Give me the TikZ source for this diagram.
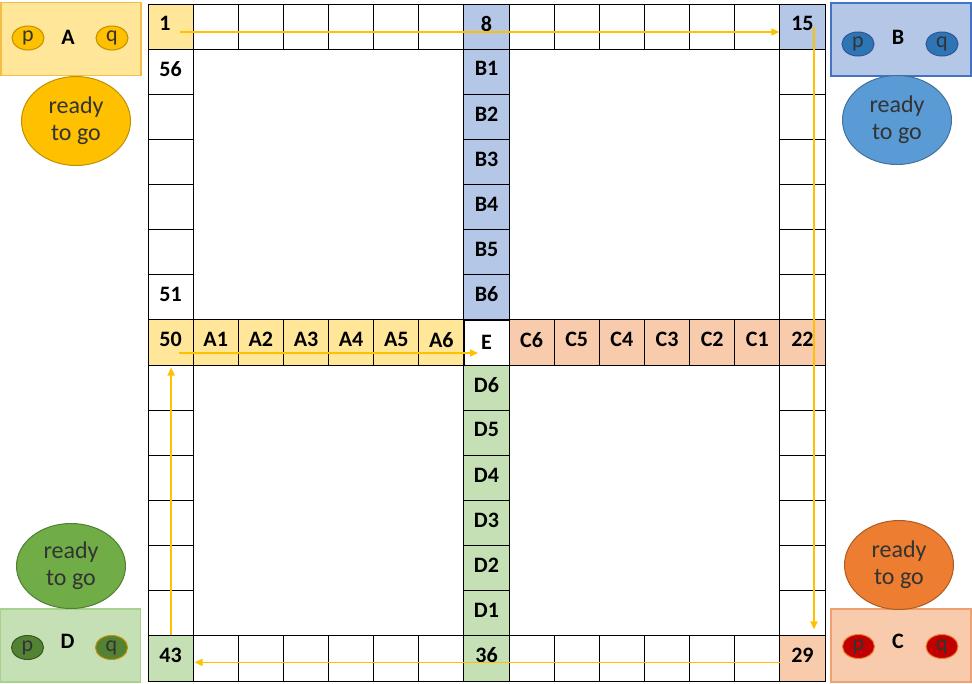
\documentclass[tikz,border=0pt]{standalone}
\usepackage{fontspec}
\setmainfont{Carlito}
\usetikzlibrary{arrows.meta, shapes.geometric}

\definecolor{yellowA}{HTML}{FFE699}
\definecolor{blueB}{HTML}{B4C7E7}
\definecolor{orangeC}{HTML}{F8CBAD}
\definecolor{greenD}{HTML}{C5E0B4}
\definecolor{goldA}{HTML}{FFC000}
\definecolor{goldline}{HTML}{BF9000}
\definecolor{boxlineA}{HTML}{F2BE45}
\definecolor{boxlineB}{HTML}{4472C4}
\definecolor{tokenB}{HTML}{2E75B6}
\definecolor{tokenlineB}{HTML}{2F5597}
\definecolor{readyB}{HTML}{5B9BD5}
\definecolor{readylineB}{HTML}{41719C}
\definecolor{boxlineC}{HTML}{F0A070}
\definecolor{readyC}{HTML}{ED7D31}
\definecolor{readylineC}{HTML}{AE5A21}
\definecolor{tokenC}{HTML}{C00000}
\definecolor{boxlineD}{HTML}{A9D18E}
\definecolor{tokenD}{HTML}{548235}
\definecolor{tokenlineD}{HTML}{385723}
\definecolor{readyD}{HTML}{70AD47}
\definecolor{readylineD}{HTML}{507E32}

\begin{document}
\begin{tikzpicture}[
        x=1pt, y=-1pt,
        cell/.style={draw=black, line width=0.9pt, minimum size=45.13pt, inner sep=0pt,
            text depth=6pt, font=\fontsize{22}{25}\selectfont\bfseries},
        pbox/.style={draw, line width=1.2pt, minimum width=140pt, minimum height=73pt, inner sep=0pt},
        token/.style={ellipse, draw, line width=1pt, minimum width=32pt, minimum height=24pt,
            inner sep=0pt, text=black!80, font=\fontsize{22}{24}\selectfont},
        ready/.style={ellipse, draw, line width=1pt, minimum width=109pt, minimum height=89pt,
            inner sep=0pt, align=center, text=black!80, font=\fontsize{24}{27}\selectfont},
        player/.style={font=\fontsize{22}{25}\selectfont\bfseries},
        move/.style={draw=goldA, line width=1.8pt, -{Triangle[length=8pt, width=7pt]}}
    ]
    \useasboundingbox (0,0) rectangle (972,683);
    % Define nodes
    \foreach \c in {1,2,3,4,5,6,8,9,10,11,12,13} {
        \node[cell] (t\c) at ({170.6+45.13*\c}, 26.6) {};
        \node[cell] (b\c) at ({170.6+45.13*\c}, 658.4) {};
    }
    \foreach \r in {2,3,4,5,8,9,10,11,12,13} {
        \node[cell] (l\r) at (170.6, {26.6+45.13*\r}) {};
    }
    \foreach \r in {1,2,3,4,5,6,8,9,10,11,12,13} {
        \node[cell] (r\r) at (802.4, {26.6+45.13*\r}) {};
    }
    \foreach \i in {1,...,6} {
        \node[cell, fill=blueB] (B\i) at (486.5, {26.6+45.13*\i}) {B\i};
        \node[cell, fill=yellowA] (A\i) at ({170.6+45.13*\i}, 342.5) {A\i};
        \node[cell, fill=orangeC] (C\i) at ({802.4-45.13*\i}, 342.5) {C\i};
        \node[cell, fill=greenD] (D\i) at (486.5, {658.4-45.13*\i}) {D\i};
    }
    \node[cell, fill=yellowA] (s1) at (170.6, 26.6) {1\hphantom{1}};
    \node[cell] (s56) at (170.6, 71.7) {56};
    \node[cell] (s51) at (170.6, 297.4) {51};
    \node[cell, fill=blueB] (s8) at (486.5, 26.6) {8};
    \node[cell, fill=blueB] (s15) at (802.4, 26.6) {15};
    \node[cell, fill=yellowA] (s50) at (170.6, 342.5) {50};
    \node[cell, text depth=0pt] (sE) at (486.5, 342.5) {E};
    \node[cell, fill=orangeC] (s22) at (802.4, 342.5) {22};
    \node[cell, fill=greenD] (s43) at (170.6, 658.4) {43};
    \node[cell, fill=greenD] (s36) at (486.5, 658.4) {36};
    \node[cell, fill=orangeC] (s29) at (802.4, 658.4) {29};
    % Players
    \node[pbox, fill=yellowA, draw=boxlineA] (boxA) at (71, 39) {};
    \node[token, fill=goldA, draw=goldline] (pA) at (28, 38) {p};
    \node[token, fill=goldA, draw=goldline] (qA) at (112, 38) {q};
    \node[player] (A) at (68, 37) {A};
    \node[ready, fill=goldA, draw=goldline] (readyA) at (76, 121) {ready\\to go};
    \node[pbox, fill=blueB, draw=boxlineB] (boxB) at (901, 39.5) {};
    \node[token, fill=tokenB, draw=tokenlineB] (pB) at (858, 44) {p};
    \node[token, fill=tokenB, draw=tokenlineB] (qB) at (942, 44) {q};
    \node[player] (B) at (898, 37) {B};
    \node[ready, fill=readyB, draw=readylineB] (readyB) at (897, 120) {ready\\to go};
    \node[pbox, fill=orangeC, draw=boxlineC] (boxC) at (901, 645.5) {};
    \node[token, fill=tokenC, draw=readyC] (pC) at (858.5, 646.5) {p};
    \node[token, fill=tokenC, draw=readyC] (qC) at (942, 646.5) {q};
    \node[player] (C) at (898, 641.5) {C};
    \node[ready, fill=readyC, draw=readylineC] (readyC) at (899, 565) {ready\\to go};
    \node[pbox, fill=greenD, draw=boxlineD] (boxD) at (70.5, 645.5) {};
    \node[token, fill=tokenD, draw=tokenlineD] (pD) at (27.5, 647.5) {p};
    \node[token, fill=tokenD, draw=goldline] (qD) at (111.5, 647.5) {q};
    \node[player] (D) at (67.5, 641.5) {D};
    \node[ready, fill=readyD, draw=readylineD, minimum height=85pt] (readyD) at (71, 566) {ready\\to go};
    % Draw moves
    \draw[move] ([xshift=9.4pt, yshift=-5.4pt]s1.center) -- ([yshift=-5.4pt]s15.west);
    \draw[move] ([xshift=11.6pt]s15.center) -- ([xshift=11.6pt, yshift=6pt]s29.north);
    \draw[move] ([xshift=1pt, yshift=-4pt]s29.west) -- ([xshift=1pt, yshift=-4pt]s43.east);
    \draw[move] ([xshift=0.5pt]s43.north) -- ([xshift=0.5pt, yshift=-2pt]s50.south);
    \draw[move] ([xshift=8.5pt, yshift=-10.5pt]s50.center) -- ([xshift=-8.5pt, yshift=-10.5pt]sE.center);
\end{tikzpicture}
\end{document}
